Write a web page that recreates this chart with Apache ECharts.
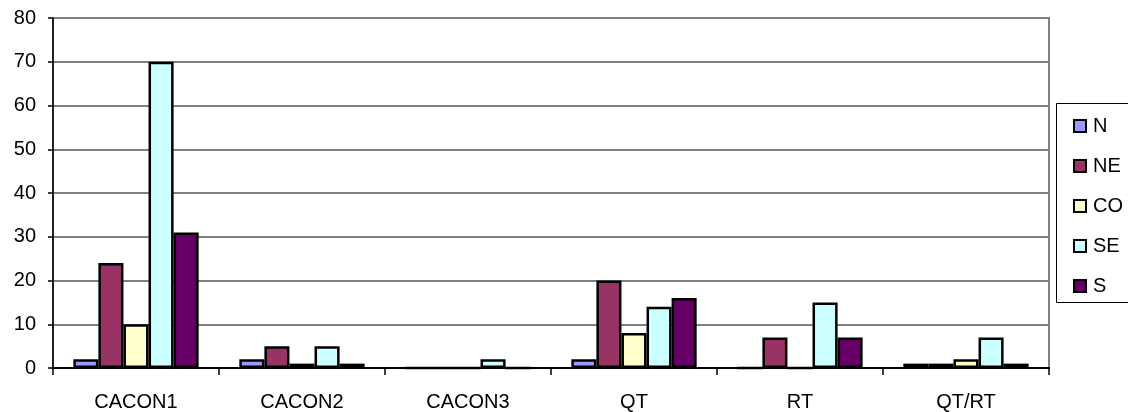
<!DOCTYPE html>
<html>
<head>
<meta charset="utf-8">
<script src="https://cdn.jsdelivr.net/npm/echarts@6/dist/echarts.min.js"></script>
<style>
  html, body { margin: 0; padding: 0; background: #ffffff; }
  #chart { width: 1128px; height: 412px; }
</style>
</head>
<body>
<div id="chart"></div>
<script>
// Categories along the x axis
const categories = ['CACON1', 'CACON2', 'CACON3', 'QT', 'RT', 'QT/RT'];

// One series per region
const seriesNames = ['N', 'NE', 'CO', 'SE', 'S'];
const valuesN  = [2, 2, 0, 2, 0, 1];
const valuesNE = [24, 5, 0, 20, 7, 1];
const valuesCO = [10, 1, 0, 8, 0, 2];
const valuesSE = [70, 5, 2, 14, 15, 7];
const valuesS  = [31, 1, 0, 16, 7, 1];

const seriesValues = [valuesN, valuesNE, valuesCO, valuesSE, valuesS];
const seriesColors = ['#9999FF', '#993366', '#FFFFCC', '#CCFFFF', '#660066'];

const font = '"Liberation Sans", Arial, sans-serif';

const chart = echarts.init(document.getElementById('chart'), null, { renderer: 'canvas' });

chart.setOption({
  animation: false,
  backgroundColor: '#ffffff',
  textStyle: { fontFamily: font },
  grid: {
    left: 53, right: 79, top: 18, bottom: 44,
    show: true, borderColor: '#808080', borderWidth: 2, backgroundColor: 'transparent'
  },
  legend: {
    orient: 'vertical',
    left: 1073, top: 112,
    padding: 0,
    itemWidth: 12, itemHeight: 12,
    itemGap: 12,
    icon: 'rect',
    textStyle: { fontSize: 20, lineHeight: 20, color: '#000', fontFamily: font, padding: [8, 0, 0, 2] },
    itemStyle: { borderColor: '#000', borderWidth: 2 },
    data: seriesNames
  },
  graphic: [{
    type: 'rect',
    shape: { x: 1056.5, y: 103.5, width: 100, height: 199 },
    style: { fill: 'none', stroke: '#000', lineWidth: 1 },
    silent: true
  }],
  xAxis: {
    type: 'category',
    data: categories,
    boundaryGap: true,
    axisLine: { lineStyle: { color: '#000', width: 2 } },
    axisTick: { show: true, length: 7, lineStyle: { color: '#000', width: 1.5 } },
    axisLabel: { fontSize: 20, color: '#000', fontFamily: font, margin: 24 }
  },
  yAxis: {
    type: 'value',
    min: 0, max: 80, interval: 10,
    axisLine: { show: true, lineStyle: { color: '#000', width: 1.5 } },
    axisTick: { show: true, length: 5, lineStyle: { color: '#000', width: 1.5 } },
    axisLabel: { fontSize: 20, color: '#000', fontFamily: font, margin: 17 },
    splitLine: { show: true, lineStyle: { color: '#808080', width: 2 } }
  },
  series: seriesNames.map((name, i) => ({
    name: name,
    type: 'bar',
    data: seriesValues[i],
    barGap: '0%',
    barCategoryGap: '24.5%',
    itemStyle: { color: seriesColors[i], borderColor: '#000', borderWidth: 2.5 }
  }))
});
</script>
</body>
</html>
